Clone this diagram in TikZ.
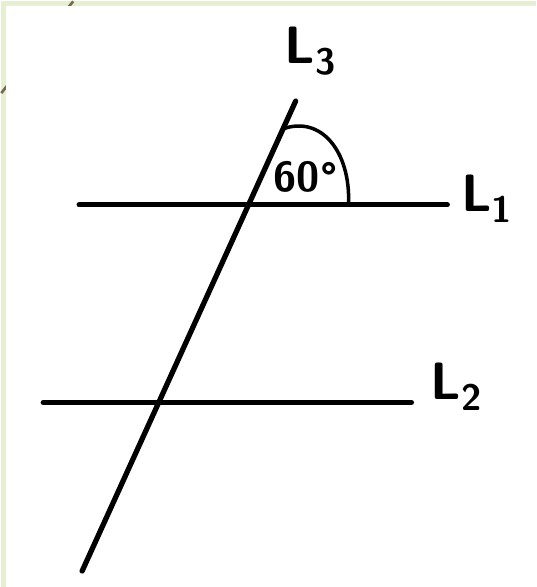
\documentclass[tikz,border=0pt]{standalone}
\usepackage{fontspec}
\usetikzlibrary{positioning}
\definecolor{slidegreen}{RGB}{230,238,212}
\definecolor{slideline}{RGB}{115,105,75}

\begin{document}
\begin{tikzpicture}[
    x=0.02cm, y=-0.02cm,
    strokeline/.style={line width=3pt, line cap=round},
    arcline/.style={line width=2pt, line cap=round},
    lbl/.style={font=\sffamily\bfseries\fontsize{30}{32}\selectfont},
]

% --- Slide background ---
\fill[slidegreen] (0,0) rectangle (536,587);
\draw[slideline, line width=1.5pt] (0,92) -- (72,0);
\fill[white] (5,5) rectangle (536,587);
\useasboundingbox (0,0) rectangle (536,587);

% --- End points ---
\coordinate (l3top) at (295,100);
\coordinate (l3bot) at (81,571);
\coordinate (l1left) at (78,204);
\coordinate (l1right) at (447,204);
\coordinate (l2left) at (42,402);
\coordinate (l2right) at (411,402);

% --- Lines ---
\draw[strokeline] (l3top) -- (l3bot);
\draw[strokeline] (l1left) -- (l1right);
\draw[strokeline] (l2left) -- (l2right);

% --- Angle mark ---
\coordinate (arcstart) at (282,128);
\coordinate (arcend) at (348,203);
\draw[arcline] (arcstart) .. controls (320,114) and (350,150) .. (arcend);
\node[lbl, font=\sffamily\bfseries\fontsize{24}{26}\selectfont]
    (anglelbl) at (305,176) {60°};

% --- Labels ---
\node[lbl] (l3lbl) at (310,50) {L\textsubscript{3}};
\node[lbl] (l1lbl) at (487,198) {L\textsubscript{1}};
\node[lbl] (l2lbl) at (456,386) {L\textsubscript{2}};

\end{tikzpicture}
\end{document}
